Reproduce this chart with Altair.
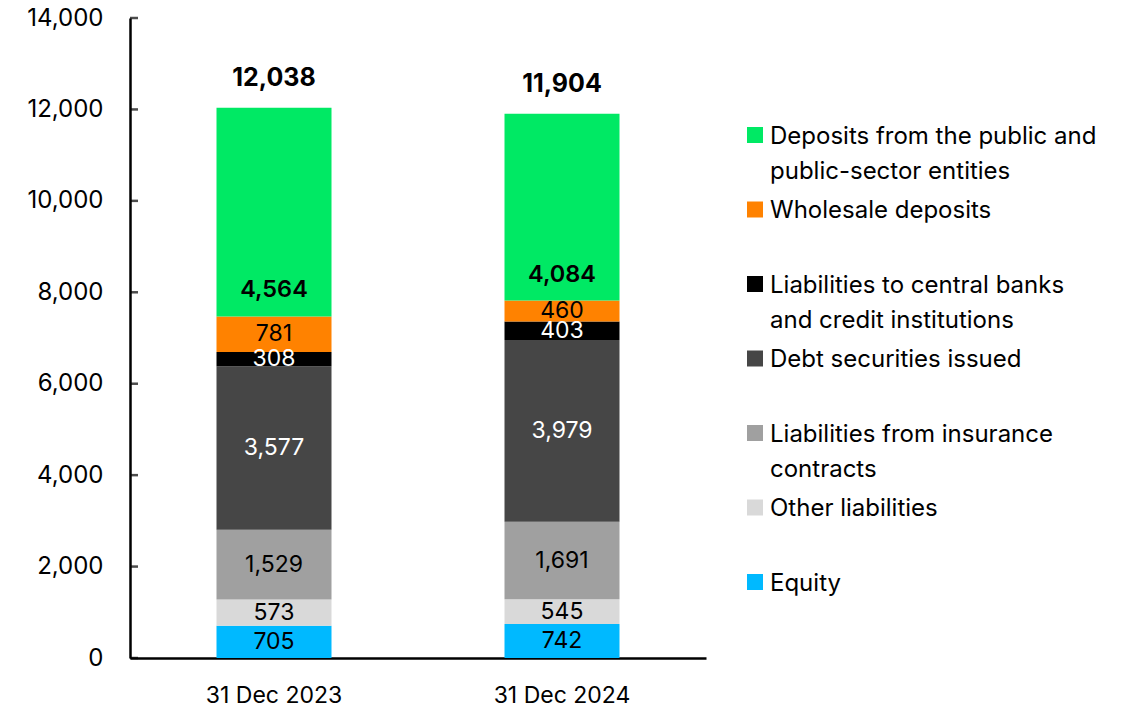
import altair as alt
import pandas as pd

dates = ["31 Dec 2023", "31 Dec 2024"]
categories = [
    "Equity",
    "Other liabilities",
    "Liabilities from insurance contracts",
    "Debt securities issued",
    "Liabilities to central banks and credit institutions",
    "Wholesale deposits",
    "Deposits from the public and public-sector entities",
]
values_2023 = [705, 573, 1529, 3577, 308, 781, 4564]
values_2024 = [742, 545, 1691, 3979, 403, 460, 4084]
totals = [12038, 11904]
colors = ["#00B9FF", "#D9D9D9", "#A0A0A0", "#464646", "#000000", "#FF8200", "#00E964"]
white_label_cats = ["Debt securities issued", "Liabilities to central banks and credit institutions"]
y_ticks = [0, 2000, 4000, 6000, 8000, 10000, 12000, 14000]
legend_cats = list(reversed(categories))
legend_labels = [
    "Deposits from the public and\npublic-sector entities",
    "Wholesale deposits",
    "Liabilities to central banks\nand credit institutions",
    "Debt securities issued",
    "Liabilities from insurance\ncontracts",
    "Other liabilities",
    "Equity",
]

rows = []
for d, vals in zip(dates, [values_2023, values_2024]):
    cum = 0
    for i, (c, v) in enumerate(zip(categories, vals)):
        rows.append({"date": d, "category": c, "order": i, "value": v,
                     "start": cum, "end": cum + v, "mid": cum + v / 2,
                     "label": f"{v:,}"})
        cum += v
df = pd.DataFrame(rows)
df_tot = pd.DataFrame({"date": dates, "total": totals,
                       "label": [f"{t:,}" for t in totals],
                       "top": [df[df.date == d].end.max() for d in dates]})
df_ticks = pd.DataFrame({"tick": y_ticks})
df_leg = pd.DataFrame({"category": legend_cats, "label": legend_labels})

FONT = "Inter"
color_scale = alt.Scale(domain=categories, range=colors)
x_enc = alt.X("date:N", sort=dates, title=None,
              scale=alt.Scale(paddingInner=0.6, paddingOuter=0.3),
              axis=alt.Axis(labelAngle=0, labelFontSize=23, labelColor="black",
                            labelPadding=26, ticks=False, domainColor="black",
                            domainWidth=2.5, labelFont=FONT))
y_scale = alt.Scale(domain=[0, 14000], nice=False)
y_axis = alt.Axis(values=y_ticks, labelExpr="format(datum.value, ',')",
                  labelFontSize=24, labelColor="black",
                  labelPadding=27, ticks=False, grid=False, domainColor="black",
                  domainWidth=2.5, labelFont=FONT)

base = alt.Chart(df)
bars = base.mark_bar(size=115).encode(
    x=x_enc,
    y=alt.Y("start:Q", scale=y_scale, axis=y_axis, title=None),
    y2="end:Q",
    color=alt.Color("category:N", scale=color_scale, legend=None),
    order="order:Q",
)
green = categories[-1]
lab_black = base.mark_text(fontSize=23, color="black", baseline="middle", font=FONT).encode(
    x=alt.X("date:N", sort=dates), y=alt.Y("mid:Q"), text="label:N"
).transform_filter(
    alt.FieldOneOfPredicate(field="category", oneOf=[c for c in categories if c not in white_label_cats and c != green])
)
lab_white = base.mark_text(fontSize=23, color="white", baseline="middle", font=FONT).encode(
    x=alt.X("date:N", sort=dates), y=alt.Y("mid:Q"), text="label:N"
).transform_filter(
    alt.FieldOneOfPredicate(field="category", oneOf=white_label_cats)
)
lab_green = base.mark_text(fontSize=23.5, color="black", baseline="middle", dy=-26,
                           fontWeight=600, font=FONT).encode(
    x=alt.X("date:N", sort=dates), y=alt.Y("start:Q"), text="label:N"
).transform_filter(alt.datum.category == green)
lab_tot = alt.Chart(df_tot).mark_text(fontSize=25, color="black", baseline="middle", dy=-30,
                                      fontWeight="bold", font=FONT).encode(
    x=alt.X("date:N", sort=dates), y=alt.Y("top:Q"), text="label:N"
)
ticks = alt.Chart(df_ticks).mark_tick(color="black", thickness=2.5, size=8, orient="horizontal").encode(
    y=alt.Y("tick:Q"), x=alt.value(4)
)

main = alt.layer(bars, lab_black, lab_white, lab_green, lab_tot, ticks)

leg_y = alt.Y("category:N", sort=legend_cats, axis=None,
              scale=alt.Scale(type="point", domain=legend_cats, range=[117, 564], padding=0))
leg_sq = alt.Chart(df_leg).mark_square(size=256, opacity=1).encode(
    y=leg_y, x=alt.value(625),
    color=alt.Color("category:N", scale=color_scale, legend=None),
)
leg_txt = alt.Chart(df_leg).mark_text(align="left", baseline="alphabetic", dy=8.5,
                                      fontSize=24, lineHeight=35, lineBreak="\n",
                                      color="black", font=FONT).encode(
    y=leg_y, x=alt.value(640), text="label:N"
)
legend = alt.layer(leg_sq, leg_txt)

chart = alt.layer(main, legend).resolve_scale(y="independent").properties(
    width=576, height=640,
    autosize=alt.AutoSizeParams(type="none"),
    padding={"left": 122, "top": 10, "right": 413, "bottom": 60},
).configure(font=FONT).configure_view(strokeWidth=0, stroke="transparent")

chart.save("out.html", embed_options={"renderer": "svg", "actions": False})
